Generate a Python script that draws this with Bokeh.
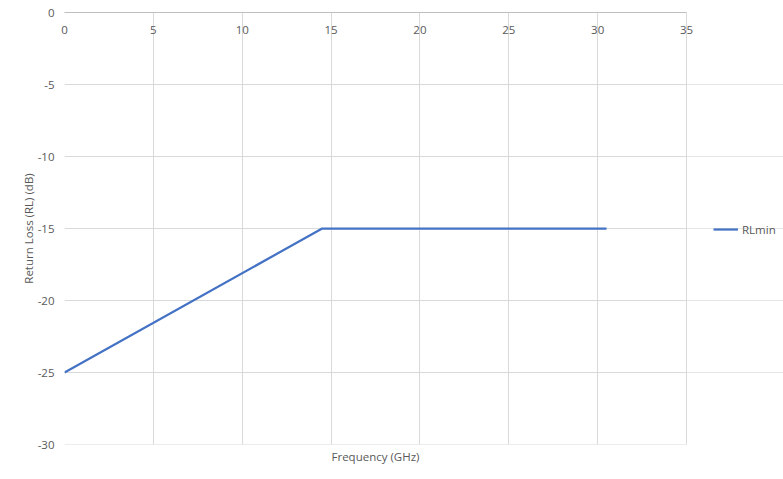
from bokeh.plotting import figure
from bokeh.models import Range1d, FixedTicker, LinearAxis, Legend, LegendItem, Grid, Title
from bokeh.embed import file_html
from bokeh.resources import INLINE

# Data
freq_ghz = [0, 14.5, 30.5]
rl_min_db = [-25, -15, -15]
series_name = "RLmin"
x_ticks = [0, 5, 10, 15, 20, 25, 30, 35]
y_ticks = [-30, -25, -20, -15, -10, -5, 0]

FONT = "Open Sans"
FS = "11.5px"
TXT = "#595959"
GRID = "#d9d9d9"

# frame extends to the right edge so the legend (outside the axes box) is not clipped
W, H = 783, 479
LEFT, TOP, BOTTOM = 64, 12, 35
AXES_RIGHT = 686
x_end = x_ticks[-1] * (W - LEFT) / (AXES_RIGHT - LEFT)

p = figure(width=W, height=H, output_backend="svg", toolbar_location=None,
           x_range=Range1d(x_ticks[0], x_end), y_range=Range1d(y_ticks[0], y_ticks[-1]),
           x_axis_location=None, y_axis_location=None,
           min_border_left=LEFT, min_border_top=TOP, min_border_right=0, min_border_bottom=BOTTOM)
p.outline_line_color = None
p.background_fill_color = "white"
p.border_fill_color = "white"

# left y axis
yax = LinearAxis(ticker=FixedTicker(ticks=y_ticks), axis_label="Return Loss (RL) (dB)")
yax.major_label_overrides = {v: str(v) for v in y_ticks}
yax.axis_line_color = None
yax.major_tick_line_color = None
yax.minor_tick_line_color = None
yax.major_tick_out = 0
yax.major_label_standoff = 10
yax.major_label_text_font = FONT
yax.major_label_text_font_size = FS
yax.major_label_text_color = TXT
yax.axis_label_text_font = FONT
yax.axis_label_text_font_size = FS
yax.axis_label_text_color = TXT
yax.axis_label_text_font_style = "normal"
yax.axis_label_standoff = -1
p.add_layout(yax, "left")

# top axis (crosses at 0) with its labels just below the line
xt = LinearAxis(ticker=FixedTicker(ticks=x_ticks), bounds=(x_ticks[0], x_ticks[-1]))
xt.major_label_overrides = {v: str(v) for v in x_ticks}
xt.axis_line_color = "#bfbfbf"
xt.axis_line_width = 1
xt.major_tick_line_color = None
xt.minor_tick_line_color = None
xt.major_tick_out = 0
xt.major_tick_in = 0
xt.major_label_standoff = -21
xt.major_label_text_font = FONT
xt.major_label_text_font_size = FS
xt.major_label_text_color = TXT
p.add_layout(xt, "above")

# x axis title, centred under the axes box (approx. text width 88px)
title_offset = (LEFT + AXES_RIGHT) / 2 - 44 - LEFT
p.add_layout(Title(text="Frequency (GHz)", align="left", offset=title_offset,
                   text_font=FONT, text_font_size=FS, text_color=TXT,
                   text_font_style="normal", standoff=4), "below")

# grid
p.add_layout(Grid(dimension=0, ticker=FixedTicker(ticks=x_ticks), grid_line_color=GRID))
p.segment(x0=[x_ticks[0]] * len(y_ticks), x1=[x_ticks[-1]] * len(y_ticks),
          y0=y_ticks, y1=y_ticks, line_color=GRID, line_width=1)

r = p.line(freq_ghz, rl_min_db, line_color="#4472C4", line_width=2.25)

legend = Legend(items=[LegendItem(label=series_name, renderers=[r])],
                location=(713 - LEFT, 205), orientation="vertical")
legend.border_line_color = None
legend.background_fill_alpha = 0
legend.margin = 0
legend.padding = 0
legend.glyph_width = 25
legend.glyph_height = 20
legend.label_standoff = 4
legend.label_text_font = FONT
legend.label_text_font_size = FS
legend.label_text_color = TXT
p.add_layout(legend, "center")

open("out.html", "w").write(file_html(p, INLINE))
